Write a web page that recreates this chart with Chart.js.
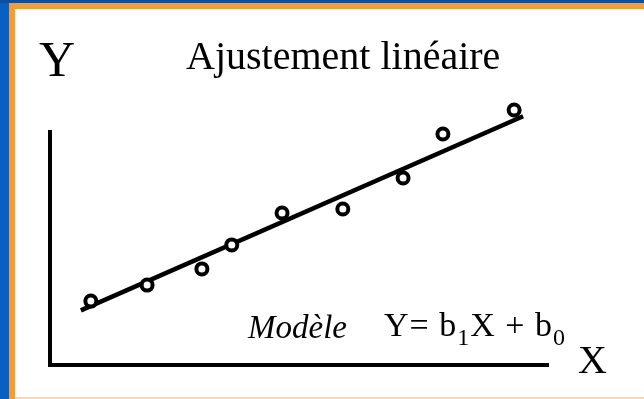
<!DOCTYPE html>
<html>
<head>
<meta charset="utf-8">
<script src="https://cdn.jsdelivr.net/npm/chart.js@4/dist/chart.umd.min.js"></script>
<style>
  html, body { margin: 0; padding: 0; background: #ffffff; }
  #frame { position: relative; width: 644px; height: 399px; overflow: hidden; background: #ffffff; }
  .band { position: absolute; }
  #blueLeft { left: 0; top: 0; width: 9px; height: 399px; background: #0860c0; }
  #blueTop { left: 0; top: 0; width: 644px; height: 3px; background: #0a50a0; }
  #orangeLeft { left: 9px; top: 3px; width: 6px; height: 396px; background: #fa9a32; }
  #orangeTop { left: 9px; top: 3px; width: 635px; height: 6px; background: #fa9a32; }
  #orangeBottom { left: 15px; top: 397px; width: 629px; height: 2px; background: #fdd9a8; }
  canvas { position: absolute; left: 0; top: 0; }
</style>
</head>
<body>
<div id="frame">
  <div class="band" id="blueLeft"></div>
  <div class="band" id="blueTop"></div>
  <div class="band" id="orangeLeft"></div>
  <div class="band" id="orangeTop"></div>
  <div class="band" id="orangeBottom"></div>
  <canvas id="chart" width="644" height="399"></canvas>
</div>
<script>
// observed points (axis units 0..10 on both axes)
const pointX = [0.82, 1.95, 3.05, 3.65, 4.66, 5.88, 7.09, 7.89, 9.32];
const pointY = [2.72, 3.40, 4.09, 5.11, 6.47, 6.64, 7.96, 9.83, 10.85];

// fitted line Y = b1 X + b0, drawn between two X values
const fitX = [0.62, 9.50];
const b1 = 0.93;
const b0 = 1.75;

// the drawn Y axis stops at 10, the scale goes a bit higher so the top point shows
const yAxisTop = 10;
const yScaleMax = 12;

const titleText = 'Ajustement linéaire';
const modelLabel = 'Modèle';
const axisLabels = { x: 'X', y: 'Y' };

const scatterData = pointX.map((x, i) => ({ x, y: pointY[i] }));
const lineData = fitX.map((x) => ({ x, y: b1 * x + b0 }));

const slidePlugin = {
  id: 'slideText',
  beforeDatasetsDraw(chart) {
    const { ctx, scales } = chart;
    const xPix = scales.x.getPixelForValue(0);
    ctx.save();
    ctx.strokeStyle = '#000000';
    ctx.lineWidth = 4;
    ctx.beginPath();
    ctx.moveTo(xPix, scales.y.getPixelForValue(yAxisTop));
    ctx.lineTo(xPix, scales.y.getPixelForValue(0) + 2);
    ctx.stroke();
    ctx.restore();
  },
  afterDraw(chart) {
    const { ctx } = chart;
    ctx.save();
    ctx.fillStyle = '#000000';
    ctx.textBaseline = 'alphabetic';
    ctx.textAlign = 'left';

    ctx.font = '50px "Liberation Serif"';
    ctx.fillText(axisLabels.y, 39, 76);

    ctx.font = '40px "Liberation Serif"';
    ctx.fillText(axisLabels.x, 578, 373);

    ctx.font = '40px "Liberation Serif"';
    ctx.fillText(titleText, 186, 69);

    ctx.font = 'italic 33px "Liberation Serif"';
    ctx.fillText(modelLabel, 248, 338);

    // formula with subscripts, spaced a little wider like the slide
    let x = 384;
    const base = 336;
    const parts = [
      ['Y= b', false], ['1', true], ['X + b', false], ['0', true],
    ];
    ctx.letterSpacing = '1px';
    parts.forEach(([txt, sub]) => {
      ctx.font = sub ? '24px "Liberation Serif"' : '34px "Liberation Serif"';
      const y = sub ? base + 9 : base;
      ctx.fillText(txt, x, y);
      x += ctx.measureText(txt).width;
    });
    ctx.restore();
  },
};

new Chart(document.getElementById('chart'), {
  type: 'scatter',
  data: {
    datasets: [
      {
        data: lineData,
        showLine: true,
        borderColor: '#000000',
        borderWidth: 4.5,
        pointRadius: 0,
        clip: false,
        order: 2,
      },
      {
        data: scatterData,
        pointStyle: 'circle',
        pointRadius: 5.5,
        pointBorderWidth: 4,
        pointBorderColor: '#000000',
        pointBackgroundColor: '#ffffff',
        clip: false,
        order: 1,
      },
    ],
  },
  options: {
    responsive: false,
    animation: false,
    events: [],
    layout: { padding: { left: 50, right: 96, top: 83, bottom: 34 } },
    plugins: {
      legend: { display: false },
      tooltip: { enabled: false },
    },
    scales: {
      x: {
        type: 'linear',
        min: 0,
        max: 10,
        ticks: { display: false },
        grid: { display: false, drawTicks: false },
        border: { display: true, color: '#000000', width: 4 },
      },
      y: {
        type: 'linear',
        min: 0,
        max: yScaleMax,
        ticks: { display: false },
        grid: { display: false, drawTicks: false },
        border: { display: false },
      },
    },
  },
  plugins: [slidePlugin],
});
</script>
</body>
</html>
